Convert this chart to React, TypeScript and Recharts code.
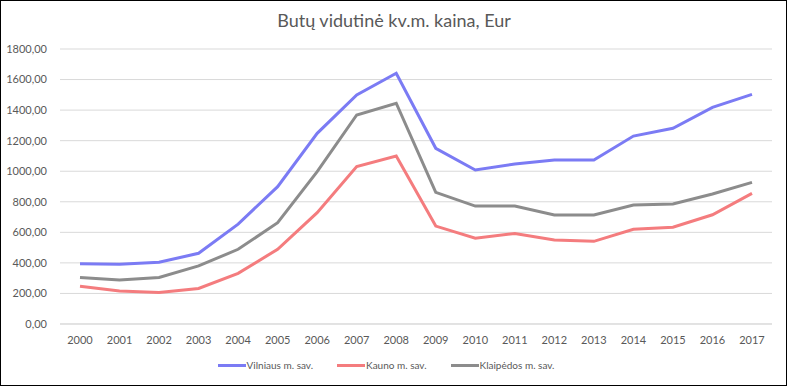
import React from "react";
import { LineChart, Line, XAxis, YAxis, CartesianGrid, Legend } from "recharts";

const years = [
  "2000", "2001", "2002", "2003", "2004", "2005", "2006", "2007", "2008",
  "2009", "2010", "2011", "2012", "2013", "2014", "2015", "2016", "2017",
];
const vilnius = [395, 391, 404, 463, 654, 899, 1248, 1499, 1641, 1150, 1008, 1047, 1073, 1073, 1230, 1281, 1418, 1503];
const kaunas = [247, 216, 207, 233, 332, 489, 729, 1030, 1100, 641, 561, 593, 550, 541, 620, 633, 715, 855];
const klaipeda = [305, 288, 305, 380, 489, 663, 997, 1368, 1445, 862, 772, 772, 713, 713, 779, 785, 851, 927];
const yTicks = [0, 200, 400, 600, 800, 1000, 1200, 1400, 1600, 1800];

const series = [
  { key: "v", name: "Vilniaus m. sav.", color: "#7b7bf4" },
  { key: "k", name: "Kauno m. sav.", color: "#f47c7e" },
  { key: "kl", name: "Klaipėdos m. sav.", color: "#8c8c8c" },
];

const data = years.map((y, i) => ({ year: y, v: vilnius[i], k: kaunas[i], kl: klaipeda[i] }));

const font = "Lato, 'Open Sans', sans-serif";

function LegendBox() {
  return (
    <div style={{ display: "flex", justifyContent: "center", fontFamily: font, fontSize: 10, color: "#595959" }}>
      {series.map((s) => (
        <div key={s.key} style={{ display: "flex", alignItems: "center", margin: "0 12px" }}>
          <span style={{ display: "inline-block", width: 28, height: 3, background: s.color, marginRight: 1 }} />
          <span>{s.name}</span>
        </div>
      ))}
    </div>
  );
}

export default function App() {
  return (
    <div style={{ position: "fixed", left: 0, top: 0, width: 788, height: 390, background: "#fff" }}>
      <div style={{ position: "absolute", left: 0, top: 0, width: 785, height: 384, border: "1px solid #000" }} />
      <div style={{ position: "absolute", left: 0, top: 9, width: 788, textAlign: "center", fontFamily: font, fontSize: 18, color: "#595959" }}>
        Butų vidutinė kv.m. kaina, Eur
      </div>
      <LineChart width={788} height={390} data={data} margin={{ top: 49, right: 16, bottom: 24, left: 0 }}>
        <CartesianGrid vertical={false} stroke="#d9d9d9" />
        <XAxis
          dataKey="year"
          axisLine={{ stroke: "#d9d9d9" }}
          tickLine={false}
          padding={{ left: 20, right: 20 }}
          tick={{ fill: "#595959", fontSize: 11, fontFamily: font }}
          tickMargin={6}
          interval={0}
        />
        <YAxis
          width={60}
          domain={[0, 1800]}
          ticks={yTicks}
          axisLine={false}
          tickLine={false}
          tickMargin={7}
          tickFormatter={(v: number) => v.toFixed(2).replace(".", ",")}
          tick={{ fill: "#595959", fontSize: 11, fontFamily: font }}
        />
        <Legend verticalAlign="bottom" wrapperStyle={{ bottom: 19 }} content={() => <LegendBox />} />
        {series.map((s) => (
          <Line
            key={s.key}
            dataKey={s.key}
            name={s.name}
            stroke={s.color}
            strokeWidth={3}
            dot={false}
            type="linear"
            isAnimationActive={false}
          />
        ))}
      </LineChart>
    </div>
  );
}
